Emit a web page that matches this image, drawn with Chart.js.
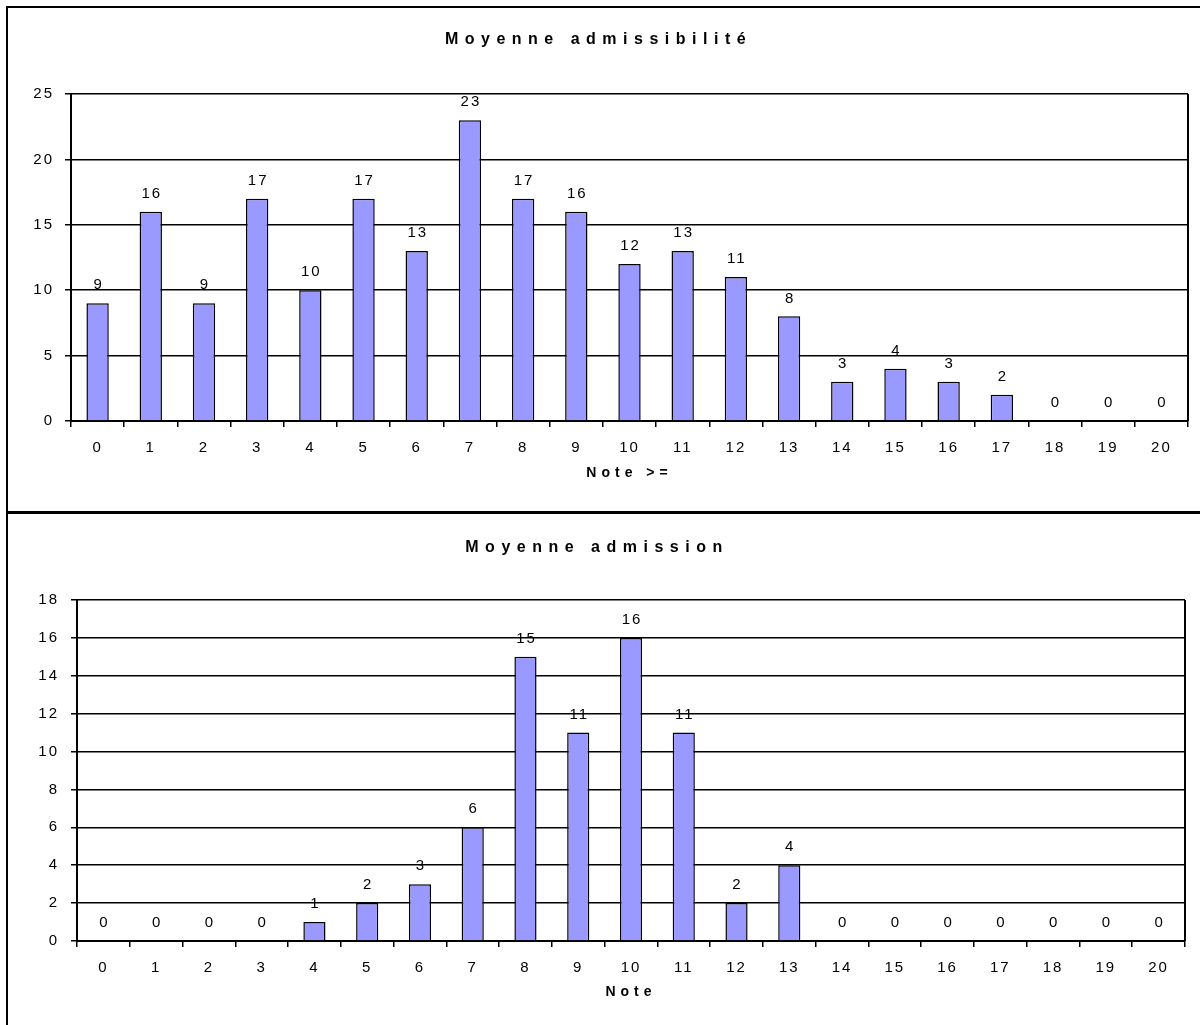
<!DOCTYPE html>
<html>
<head>
<meta charset="utf-8">
<script src="https://cdn.jsdelivr.net/npm/chart.js@4/dist/chart.umd.min.js"></script>
<style>
  html, body { margin: 0; padding: 0; background: #fff; overflow: hidden; }
  body { width: 1200px; height: 1025px; position: relative; }
  #frame { position: absolute; left: 6px; top: 6px; width: 1220px; height: 1040px; border: 2.5px solid #000; box-sizing: border-box; }
  #divider { position: absolute; left: 6px; top: 511px; width: 1200px; height: 2.5px; background: #000; }
  .box { position: absolute; left: 0; width: 1200px; }
  #top { top: 0; height: 511px; }
  #bottom { top: 513px; height: 512px; }
</style>
</head>
<body>
<div id="frame"></div>
<div id="divider"></div>
<div class="box" id="top"><canvas id="c1"></canvas></div>
<div class="box" id="bottom"><canvas id="c2"></canvas></div>
<script>
const categories = ['0','1','2','3','4','5','6','7','8','9','10','11','12','13','14','15','16','17','18','19','20'];
const admissibiliteValues = [9,16,9,17,10,17,13,23,17,16,12,13,11,8,3,4,3,2,0,0,0];
const admissionValues = [0,0,0,0,1,2,3,6,15,11,16,11,2,4,0,0,0,0,0,0,0];
const title1 = 'Moyenne admissibilité';
const title2 = 'Moyenne admission';
const xTitle1 = 'Note >=';
const xTitle2 = 'Note';

const FONT = "'Liberation Sans', Arial, sans-serif";

const stylePlugin = {
  id: 'stylePlugin',
  beforeDraw(chart) {
    const ctx = chart.ctx;
    ctx.letterSpacing = '2px';
    const tb = chart.titleBlock;
    if (tb && !tb._sp) {
      const o = tb.draw;
      tb.draw = function (...a) { const c = this.ctx; c.save(); c.letterSpacing = '6.5px'; o.apply(this, a); c.restore(); };
      tb._sp = true;
    }
    const sx = chart.scales.x;
    if (sx && !sx._sp) {
      const o = sx.drawTitle;
      sx.drawTitle = function (...a) { const c = this.ctx; c.save(); c.letterSpacing = '5px'; o.apply(this, a); c.restore(); };
      sx._sp = true;
    }
  },
  beforeDatasetsDraw(chart) {
    const ctx = chart.ctx;
    const a = chart.chartArea;
    ctx.save();
    ctx.strokeStyle = '#000';
    ctx.lineWidth = 2;
    ctx.beginPath();
    ctx.moveTo(a.right, a.top);
    ctx.lineTo(a.right, a.bottom);
    ctx.stroke();
    ctx.restore();
  },
  afterDatasetsDraw(chart) {
    const ctx = chart.ctx;
    ctx.save();
    ctx.letterSpacing = '2px';
    ctx.font = '15px ' + FONT;
    ctx.fillStyle = '#000';
    ctx.textAlign = 'center';
    ctx.textBaseline = 'middle';
    const meta = chart.getDatasetMeta(0);
    const data = chart.data.datasets[0].data;
    meta.data.forEach((bar, i) => {
      ctx.fillText(String(data[i]), bar.x + 1, bar.y - 18);
    });
    ctx.restore();
  }
};

function makeChart(id, values, title, xTitle, maxY, step, yWidth, xHeight, padRight, titlePad, xTickPad, xTitlePadBottom, yTickPad) {
  return new Chart(document.getElementById(id), {
    type: 'bar',
    data: {
      labels: categories,
      datasets: [{
        data: values,
        backgroundColor: '#9999FF',
        borderColor: '#000',
        borderWidth: 1.5,
        categoryPercentage: 1,
        barPercentage: 0.42
      }]
    },
    options: {
      responsive: true,
      maintainAspectRatio: false,
      animation: false,
      devicePixelRatio: 1,
      layout: { padding: { left: 9, right: padRight, top: 0, bottom: 0 } },
      plugins: {
        legend: { display: false },
        tooltip: { enabled: false },
        title: {
          display: true,
          text: title,
          color: '#000',
          font: { family: FONT, size: 16, weight: 'bold', lineHeight: 1.2 },
          padding: titlePad
        }
      },
      scales: {
        x: {
          grid: { offset: true, drawOnChartArea: false, drawTicks: true, tickLength: 6, color: '#000', lineWidth: 1.5 },
          border: { color: '#000', width: 2 },
          ticks: { color: '#000', font: { family: FONT, size: 15 }, padding: xTickPad, maxRotation: 0, autoSkip: false },
          title: {
            display: true,
            text: xTitle,
            color: '#000',
            font: { family: FONT, size: 14, weight: 'bold', lineHeight: 1.2 },
            padding: { top: 0, bottom: xTitlePadBottom }
          },
          afterFit(scale) { scale.height = xHeight; }
        },
        y: {
          min: 0,
          max: maxY,
          grid: { color: '#000', lineWidth: 1.5, drawTicks: true, tickLength: 6 },
          border: { color: '#000', width: 2 },
          ticks: { stepSize: step, color: '#000', font: { family: FONT, size: 15 }, padding: yTickPad },
          afterFit(scale) { scale.width = yWidth; }
        }
      }
    },
    plugins: [stylePlugin]
  });
}

const c1 = makeChart('c1', admissibiliteValues, title1, xTitle1, 25, 5, 62, 90, 12,
  { top: 30.4, bottom: 44.4 }, 11.5, 29.6, 11);
const c2 = makeChart('c2', admissionValues, title2, xTitle2, 18, 2, 68, 84, 15,
  { top: 25.4, bottom: 42.4 }, 11.5, 24.6, 12);
</script>
</body>
</html>
